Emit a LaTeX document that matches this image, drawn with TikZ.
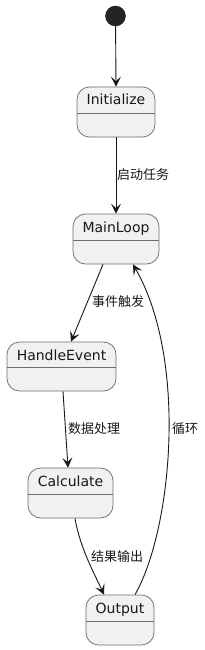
\documentclass[tikz,border=0pt]{standalone}
\usepackage{fontspec}
\setmainfont{DejaVu Sans}
\newfontfamily\cjkfont{Noto Sans CJK SC}
\usetikzlibrary{arrows.meta,calc}
\definecolor{boxC}{HTML}{F1F1F1}
\definecolor{lineC}{HTML}{181818}
\definecolor{borderC}{HTML}{6E6E6E}
\tikzset{
  st/.style={draw=borderC, fill=boxC, line width=0.75pt, rounded corners=12.5pt, inner sep=0pt},
  sttext/.style={font=\fontsize{14}{16}\selectfont, text=lineC, inner sep=0pt, anchor=base},
  divline/.style={draw=borderC, line width=0.75pt},
  lab/.style={font=\cjkfont\fontsize{13}{15}\selectfont, text=lineC, inner sep=0pt, anchor=west},
  arr/.style={draw=lineC, line width=0.9pt, -{Stealth[length=10pt,width=10pt,inset=4.5pt]}},
  startdot/.style={circle, fill=lineC!95!white, draw=lineC, minimum size=20pt, inner sep=0pt}
}
\begin{document}
\begin{tikzpicture}[x=1pt,y=1pt]
\useasboundingbox (0,0) rectangle (204,-650);
% start
\node[startdot] (start) at (115.5,-16) {};
% states
\node[st, minimum width=78pt, minimum height=50pt] (init) at (116,-112) {};
\node[sttext] (initT) at (116,-105) {Initialize};
\draw[divline] (init.west |- 0,-113) -- (init.east |- 0,-113);

\node[st, minimum width=86pt, minimum height=50pt] (main) at (116,-239) {};
\node[sttext] (mainT) at (116,-232) {MainLoop};
\draw[divline] (main.west |- 0,-240) -- (main.east |- 0,-240);

\node[st, minimum width=109pt, minimum height=49pt] (he) at (61.5,-366.5) {};
\node[sttext] (heT) at (61.5,-360) {HandleEvent};
\draw[divline] (he.west |- 0,-367.5) -- (he.east |- 0,-367.5);

\node[st, minimum width=85pt, minimum height=50pt] (calc) at (70.5,-493) {};
\node[sttext] (calcT) at (70.5,-486) {Calculate};
\draw[divline] (calc.west |- 0,-494) -- (calc.east |- 0,-494);

\node[st, minimum width=68pt, minimum height=50pt] (out) at (120,-620) {};
\node[sttext] (outT) at (120,-613) {Output};
\draw[divline] (out.west |- 0,-621) -- (out.east |- 0,-621);

% connectors
\draw[arr] (start) -- (init.north);
\draw[arr] (init.south) -- (main.north);
\draw[arr] ([xshift=-13pt]main.south) -- ([xshift=9.5pt]he.north);
\draw[arr] ([xshift=1.5pt]he.south) -- ([xshift=-2.5pt]calc.north);
\draw[arr] ([xshift=4.5pt]calc.south) .. controls (80,-548) and (95,-575) .. ([xshift=-16pt]out.north);
\draw[arr] ([xshift=15pt]out.north) .. controls (172,-530) and (188,-360) .. ([xshift=17pt]main.south);

% labels
\node[lab] (l1) at (117,-175) {启动任务};
\node[lab] (l2) at (92,-302) {事件触发};
\node[lab] (l3) at (68,-429) {数据处理};
\node[lab] (l4) at (172,-429) {循环};
\node[lab] (l5) at (91,-557) {结果输出};
\end{tikzpicture}
\end{document}
